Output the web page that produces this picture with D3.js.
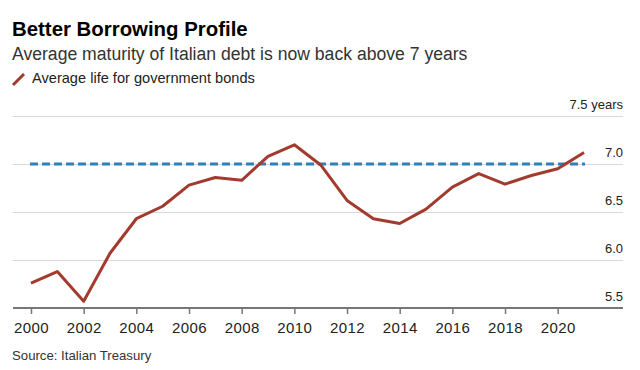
<!DOCTYPE html>
<html>
<head>
<meta charset="utf-8">
<script src="https://cdn.jsdelivr.net/npm/d3@7"></script>
<style>
  body { margin: 0; background: #fff; }
  svg { display: block; font-family: "Liberation Sans", Arial, sans-serif; }
</style>
</head>
<body>
<svg id="chart" width="640" height="370"></svg>
<script>
const years = [2000, 2001, 2002, 2003, 2004, 2005, 2006, 2007, 2008, 2009, 2010,
  2011, 2012, 2013, 2014, 2015, 2016, 2017, 2018, 2019, 2020, 2021];
const avgLife = [5.76, 5.88, 5.57, 6.07, 6.43, 6.56, 6.78, 6.86, 6.83, 7.08, 7.20,
  6.99, 6.62, 6.43, 6.38, 6.53, 6.76, 6.90, 6.79, 6.88, 6.95, 7.12];
const threshold = 7.0;
const yTicks = [5.5, 6.0, 6.5, 7.0, 7.5];
const xTicks = [2000, 2002, 2004, 2006, 2008, 2010, 2012, 2014, 2016, 2018, 2020];

const svg = d3.select("#chart");
const left = 13, right = 623;

const x = d3.scaleLinear().domain([2000, 2020]).range([31, 557.7]);
const y = d3.scaleLinear().domain([5.5, 7.5]).range([308, 116]);

// titles
svg.append("text").attr("x", 12).attr("y", 36)
  .attr("font-size", 20.4).attr("font-weight", "bold").attr("fill", "#000")
  .text("Better Borrowing Profile");
svg.append("text").attr("x", 12).attr("y", 60)
  .attr("font-size", 17.6).attr("fill", "#333")
  .text("Average maturity of Italian debt is now back above 7 years");

// legend
svg.append("line").attr("x1", 13).attr("y1", 85).attr("x2", 24).attr("y2", 74)
  .attr("stroke", "#a33a2e").attr("stroke-width", 3);
svg.append("text").attr("x", 32).attr("y", 83)
  .attr("font-size", 14.6).attr("fill", "#222")
  .text("Average life for government bonds");

// grid + y labels
const yAxis = d3.axisRight(y).tickValues(yTicks)
  .tickSize(-(right - left))
  .tickFormat((d) => d === 7.5 ? "7.5 years" : d3.format(".1f")(d));

svg.append("g")
  .attr("transform", `translate(${right},0)`)
  .call(yAxis)
  .call((g) => g.select(".domain").remove())
  .call((g) => g.selectAll(".tick line").attr("stroke", "#d9d9d9"))
  .call((g) => g.selectAll(".tick text")
    .attr("x", 0).attr("dy", 0).attr("y", -8)
    .attr("text-anchor", "end")
    .attr("font-size", 13).attr("fill", "#222")
    .attr("font-family", "Liberation Sans, Arial, sans-serif"));

// x axis
svg.append("g")
  .attr("transform", `translate(0,${y(5.5)})`)
  .call(d3.axisBottom(x).tickValues(xTicks).tickFormat(d3.format("d")).tickSize(6).tickSizeOuter(0))
  .call((g) => g.select(".domain").attr("d", `M${left},0H${right}`).attr("stroke", "#777").attr("stroke-width", 2))
  .call((g) => g.selectAll(".tick line").attr("stroke", "#777").attr("stroke-width", 1.5))
  .call((g) => g.selectAll(".tick text")
    .attr("y", 25).attr("dy", 0)
    .attr("font-size", 15).attr("fill", "#222").attr("letter-spacing", 0.4)
    .attr("font-family", "Liberation Sans, Arial, sans-serif"));

// 7-year reference
svg.append("line")
  .attr("x1", x(years[0]) - 1).attr("x2", x(years[years.length - 1]) + 1)
  .attr("y1", y(threshold)).attr("y2", y(threshold))
  .attr("stroke", "#2f7fb9").attr("stroke-width", 3)
  .attr("stroke-dasharray", "8 4");

// series
const line = d3.line()
  .x((d, i) => x(years[i]))
  .y((d) => y(d));

svg.append("path")
  .datum(avgLife)
  .attr("fill", "none")
  .attr("stroke", "#a33a2e")
  .attr("stroke-width", 3)
  .attr("stroke-linejoin", "round")
  .attr("d", line);

// source
svg.append("text").attr("x", 12).attr("y", 360)
  .attr("font-size", 13.2).attr("fill", "#333")
  .text("Source: Italian Treasury");
</script>
</body>
</html>
